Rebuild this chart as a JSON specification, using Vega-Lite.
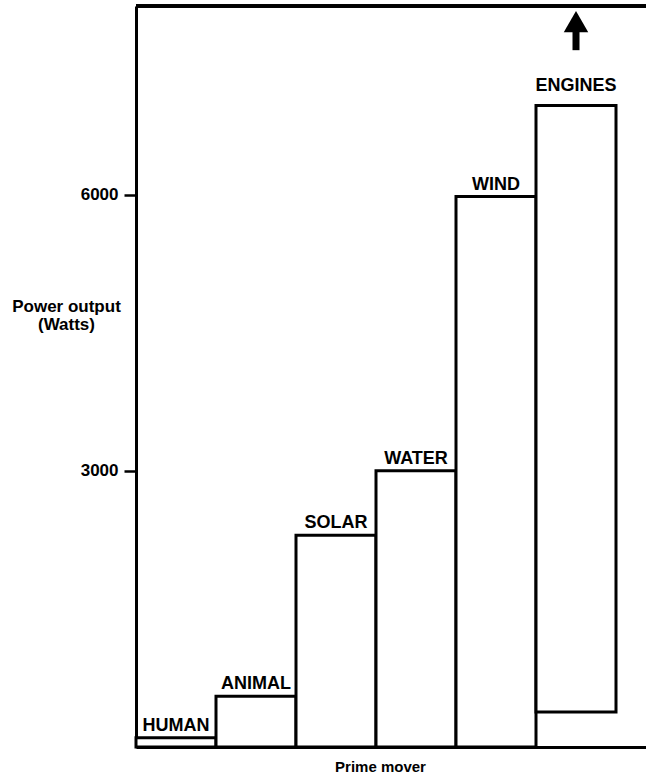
{
  "$schema": "https://vega.github.io/schema/vega-lite/v6.json",
  "width": 510,
  "height": 741,
  "autosize": {"type": "none"},
  "padding": {"left": 136, "top": 6, "right": 0, "bottom": 37},
  "background": "white",
  "config": {"view": {"stroke": null}, "font": "Liberation Sans"},
  "data": {"values": [
    {"mover": "HUMAN", "low": 0, "high": 100},
    {"mover": "ANIMAL", "low": 0, "high": 550},
    {"mover": "SOLAR", "low": 0, "high": 2300},
    {"mover": "WATER", "low": 0, "high": 3000},
    {"mover": "WIND", "low": 0, "high": 5980},
    {"mover": "ENGINES", "low": 380, "high": 6970}
  ]},
  "encoding": {
    "x": {"field": "mover", "type": "nominal", "sort": null,
      "scale": {"domain": ["HUMAN", "ANIMAL", "SOLAR", "WATER", "WIND", "ENGINES"], "paddingInner": 0, "paddingOuter": 0.1875, "align": 0},
      "axis": {"title": "Prime mover", "labels": false, "ticks": false, "domainColor": "black", "domainWidth": 3,
        "titleFontSize": 15, "titleFontWeight": "bold", "titlePadding": 12, "titleColor": "black", "titleX": 244}}
  },
  "layer": [
    {
      "mark": {"type": "rule", "stroke": "black", "strokeWidth": 3},
      "encoding": {"x": null, "y": {"datum": 8050, "type": "quantitative"}}
    },
    {
      "mark": {"type": "bar", "fill": "white", "stroke": "black", "strokeWidth": 3, "strokeJoin": "miter"},
      "encoding": {
        "y": {"field": "high", "type": "quantitative",
          "scale": {"domain": [0, 8050], "nice": false, "zero": true},
          "axis": {"values": [3000, 6000], "format": "d", "title": ["Power output", "(Watts)"], "grid": false,
            "domainColor": "black", "domainWidth": 3, "tickColor": "black", "tickWidth": 2.5, "tickSize": 12,
            "labelFontSize": 17, "labelFontWeight": "bold", "labelColor": "black", "labelPadding": 6,
            "titleAngle": 0, "titleAlign": "center", "titleBaseline": "top", "titleX": -70, "titleY": 292,
            "titleFontSize": 17, "titleFontWeight": "bold", "titleColor": "black", "titleLineHeight": 18}},
        "y2": {"field": "low"}
      }
    },
    {
      "transform": [{"filter": "datum.mover !== 'ENGINES'"}],
      "mark": {"type": "text", "fontSize": 18, "fontWeight": "bold", "baseline": "alphabetic", "dy": -7, "color": "black"},
      "encoding": {"y": {"field": "high", "type": "quantitative"}, "text": {"field": "mover"}}
    },
    {
      "transform": [{"filter": "datum.mover === 'ENGINES'"}],
      "mark": {"type": "text", "fontSize": 18, "fontWeight": "bold", "baseline": "alphabetic", "dy": -14, "color": "black"},
      "encoding": {"y": {"field": "high", "type": "quantitative"}, "text": {"field": "mover"}}
    },
    {
      "transform": [{"filter": "datum.mover === 'ENGINES'"}],
      "mark": {"type": "rule", "stroke": "black", "strokeWidth": 7},
      "encoding": {"y": {"datum": 7570, "type": "quantitative"}, "y2": {"datum": 7790}}
    },
    {
      "transform": [{"filter": "datum.mover === 'ENGINES'"}],
      "mark": {"type": "point", "shape": "triangle-up", "filled": true, "color": "black", "opacity": 1, "size": 600},
      "encoding": {"y": {"datum": 7880, "type": "quantitative"}}
    }
  ]
}
